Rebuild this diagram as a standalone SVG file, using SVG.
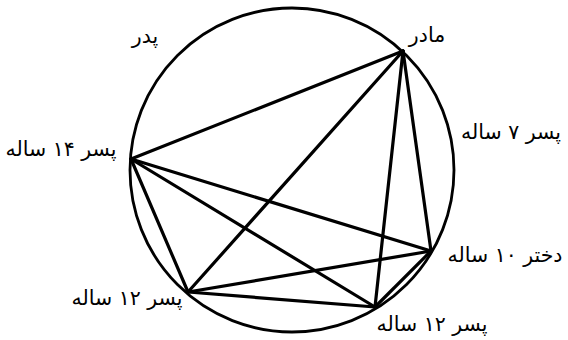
<svg xmlns="http://www.w3.org/2000/svg" width="568" height="340" viewBox="0 0 568 340">
<style>
.lbl{font-family:"DejaVu Sans","Noto Sans",sans-serif;font-size:20.5px;fill:#000;text-anchor:middle;direction:rtl}
.edge{stroke:#000;stroke-width:3.2;stroke-linecap:round;fill:none}
</style>
<rect width="568" height="340" fill="#fff"/>
<circle cx="292" cy="170" r="162" fill="none" stroke="#000" stroke-width="2.8"/>
<g id="connectors">
<line class="edge" x1="403" y1="51" x2="131" y2="159"/>
<line class="edge" x1="403" y1="51" x2="188" y2="292"/>
<line class="edge" x1="403" y1="51" x2="375" y2="307"/>
<line class="edge" x1="403" y1="51" x2="431" y2="251"/>
<line class="edge" x1="131" y1="159" x2="431" y2="251"/>
<line class="edge" x1="131" y1="159" x2="375" y2="307"/>
<line class="edge" x1="131" y1="159" x2="188" y2="292"/>
<line class="edge" x1="188" y1="292" x2="431" y2="251"/>
<line class="edge" x1="188" y1="292" x2="375" y2="307"/>
<line class="edge" x1="431" y1="251" x2="375" y2="307"/>
</g>
<g id="mother"><text class="lbl" x="427" y="42">مادر</text></g>
<g id="father"><text class="lbl" x="145" y="43">پدر</text></g>
<g id="son7"><text class="lbl" x="511" y="139">پسر ۷ ساله</text></g>
<g id="son14"><text class="lbl" x="61" y="156">پسر ۱۴ ساله</text></g>
<g id="daughter10"><text class="lbl" x="505" y="262">دختر ۱۰ ساله</text></g>
<g id="son12a"><text class="lbl" x="127" y="305">پسر ۱۲ ساله</text></g>
<g id="son12b"><text class="lbl" x="432" y="331">پسر ۱۲ ساله</text></g>
</svg>
